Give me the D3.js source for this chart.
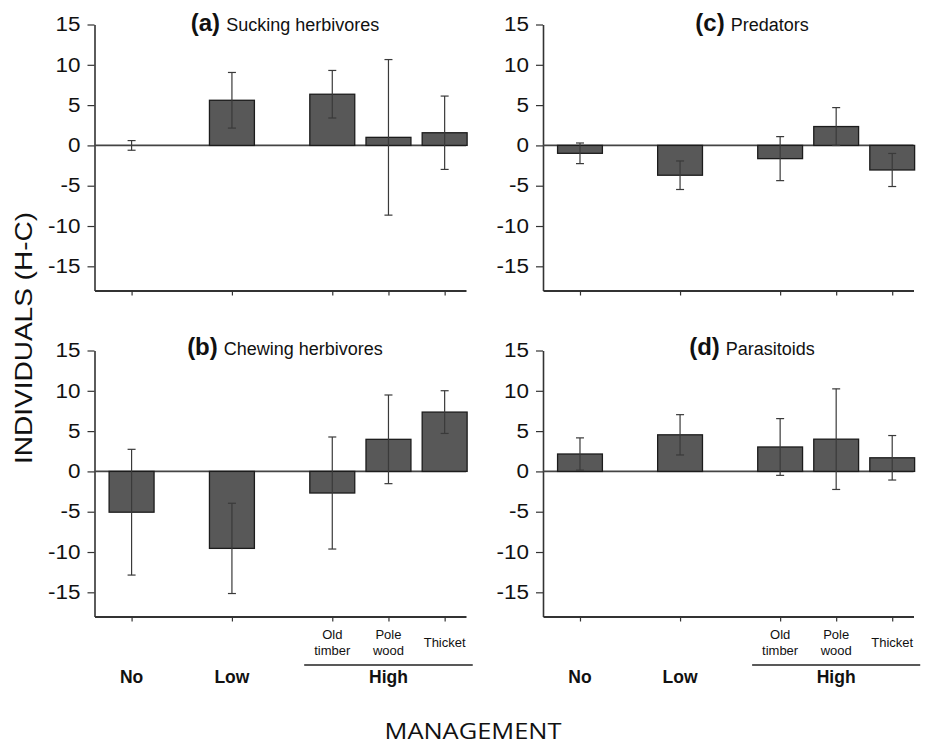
<!DOCTYPE html>
<html>
<head>
<meta charset="utf-8">
<script src="https://cdn.jsdelivr.net/npm/d3@7"></script>
<style>
  html, body { margin: 0; padding: 0; background: #fff; }
  svg { display: block; }
</style>
</head>
<body>
<script>
// ---------------- DATA ----------------
const categories = ["No", "Low", "Old timber", "Pole wood", "Thicket"];
const groups = ["No", "Low", "High", "High", "High"];
const yTicks = [15, 10, 5, 0, -5, -10, -15];

const panelLetters = ["(a)", "(b)", "(c)", "(d)"];
const panelNames = ["Sucking herbivores", "Chewing herbivores", "Predators", "Parasitoids"];

const suckingMeans = [0, 5.6, 6.35, 1.0, 1.57];
const suckingErr   = [0.6, 3.45, 2.95, 9.65, 4.55];

const chewingMeans = [-5.06, -9.55, -2.68, 3.98, 7.36];
const chewingErr   = [7.8, 5.6, 6.95, 5.5, 2.65];

const predatorMeans = [-0.98, -3.7, -1.64, 2.34, -3.05];
const predatorErr   = [1.28, 1.77, 2.73, 2.35, 2.05];

const parasitoidMeans = [2.16, 4.54, 3.03, 4.0, 1.69];
const parasitoidErr   = [2.0, 2.5, 3.52, 6.24, 2.76];

const yLabel = "INDIVIDUALS (H-C)";
const xLabel = "MANAGEMENT";

// ---------------- LAYOUT ----------------
const W = 928, H = 744;
const cols = [{ x0: 94.5, x1: 466, tc: 285 }, { x0: 543, x1: 913.5, tc: 752 }];
const rows = [{ y0: 24.5, y1: 290.5, ty: 31 }, { y0: 350.5, y1: 616.5, ty: 355 }];
const groupGap = 0.786;   // extra spacing between management groups (in slot units)
const tickStretch = 1.15; // tick labels in the reference are horizontally wide

// slot index derived from group structure
const slots = [];
{
  let changes = 0;
  groups.forEach((g, i) => {
    if (i > 0 && g !== groups[i - 1]) changes++;
    slots.push(i + changes * groupGap);
  });
}

const panels = [
  { letter: panelLetters[0], name: panelNames[0], means: suckingMeans, err: suckingErr, row: 0, col: 0 },
  { letter: panelLetters[1], name: panelNames[1], means: chewingMeans, err: chewingErr, row: 1, col: 0 },
  { letter: panelLetters[2], name: panelNames[2], means: predatorMeans, err: predatorErr, row: 0, col: 1 },
  { letter: panelLetters[3], name: panelNames[3], means: parasitoidMeans, err: parasitoidErr, row: 1, col: 1 }
];

const svg = d3.select("body").append("svg").attr("width", W).attr("height", H)
  .style("font-family", "'Liberation Sans', Arial, sans-serif");

const axisColor = "#333";

panels.forEach(p => {
  const c = cols[p.col], r = rows[p.row];
  const x = d3.scaleLinear().domain([-0.66, slots[slots.length - 1] + 0.38]).range([c.x0, c.x1]);
  const y = d3.scaleLinear().domain([-18, 15]).range([r.y1, r.y0]);
  const unit = x(1) - x(0);
  const bw = unit * 0.8;
  const g = svg.append("g");

  // y axis
  const ya = g.append("g").attr("transform", `translate(${c.x0},0)`)
    .call(d3.axisLeft(y).tickValues(yTicks).tickSize(7).tickSizeOuter(0).tickPadding(7).tickFormat(d => String(d)));
  ya.select(".domain").attr("stroke", axisColor).attr("stroke-width", 1.6);
  ya.selectAll(".tick line").attr("stroke", axisColor).attr("stroke-width", 1.2);
  ya.selectAll(".tick text").attr("font-size", 19.5).attr("fill", "#111")
    .attr("font-family", "'Liberation Sans', Arial, sans-serif")
    .attr("x", -14 / tickStretch)
    .attr("transform", `scale(${tickStretch},1)`);

  // x axis
  const xa = g.append("g").attr("transform", `translate(0,${r.y1})`)
    .call(d3.axisBottom(x).tickValues(slots).tickSize(5).tickSizeOuter(0).tickFormat(""));
  xa.select(".domain").attr("stroke", axisColor).attr("stroke-width", 1.8);
  xa.selectAll(".tick line").attr("stroke", axisColor).attr("stroke-width", 1.2);

  // zero line
  g.append("line").attr("x1", c.x0).attr("x2", c.x1).attr("y1", y(0)).attr("y2", y(0))
    .attr("stroke", "#444").attr("stroke-width", 1.6);

  const data = categories.map((cat, i) => ({ cat, s: slots[i], v: p.means[i], e: p.err[i] }));

  // bars
  g.selectAll("rect.bar").data(data).join("rect").attr("class", "bar")
    .attr("x", d => x(d.s) - bw / 2)
    .attr("y", d => y(Math.max(0, d.v)))
    .attr("width", bw)
    .attr("height", d => Math.abs(y(d.v) - y(0)))
    .attr("fill", "#585858")
    .attr("stroke", "#1c1c1c")
    .attr("stroke-width", 1.3);

  // error bars
  const eg = g.selectAll("g.err").data(data).join("g").attr("class", "err")
    .attr("stroke", "#3a3a3a").attr("stroke-width", 1.2);
  eg.append("line").attr("x1", d => x(d.s)).attr("x2", d => x(d.s))
    .attr("y1", d => y(d.v - d.e)).attr("y2", d => y(d.v + d.e));
  eg.append("line").attr("x1", d => x(d.s) - 4).attr("x2", d => x(d.s) + 4)
    .attr("y1", d => y(d.v + d.e)).attr("y2", d => y(d.v + d.e));
  eg.append("line").attr("x1", d => x(d.s) - 4).attr("x2", d => x(d.s) + 4)
    .attr("y1", d => y(d.v - d.e)).attr("y2", d => y(d.v - d.e));

  // title
  const t = g.append("text").attr("x", c.tc).attr("y", r.ty).attr("text-anchor", "middle").attr("fill", "#111");
  t.append("tspan").attr("font-weight", "bold").attr("font-size", 24).text(p.letter);
  t.append("tspan").attr("font-size", 18).attr("dx", 6).text(p.name);

  // category labels on bottom row only
  if (p.row === 1) {
    const base = r.y1;
    categories.forEach((cat, i) => {
      if (groups[i] !== "High") return;
      const parts = cat.split(" ");
      const tt = g.append("text").attr("text-anchor", "middle").attr("font-size", 13).attr("fill", "#111");
      const startY = parts.length === 1 ? base + 30.5 : base + 22.5;
      parts.forEach((w, k) => {
        tt.append("tspan").attr("x", x(slots[i])).attr("y", startY + k * 16).text(w);
      });
    });
    // group labels
    const uniq = Array.from(new Set(groups));
    uniq.forEach(gr => {
      const idx = groups.map((gg, i) => gg === gr ? i : -1).filter(i => i >= 0);
      const s0 = slots[idx[0]], s1 = slots[idx[idx.length - 1]];
      const cx = (x(s0) + x(s1)) / 2;
      g.append("text").attr("x", cx).attr("y", base + 66.5).attr("text-anchor", "middle")
        .attr("font-size", 17.5).attr("font-weight", "bold").attr("fill", "#111").text(gr);
      if (idx.length > 1) {
        g.append("line").attr("x1", x(s0) - unit * 0.5).attr("x2", x(s1) + unit * 0.5)
          .attr("y1", base + 48.5).attr("y2", base + 48.5)
          .attr("stroke", "#222").attr("stroke-width", 1.5);
      }
    });
  }
});

// y label
svg.append("text").attr("transform", "translate(32,338) rotate(-90)")
  .attr("text-anchor", "middle").attr("font-size", 24).attr("fill", "#111")
  .attr("textLength", 252).attr("lengthAdjust", "spacingAndGlyphs")
  .text(yLabel);

// x label
svg.append("text").attr("x", 473).attr("y", 739).attr("text-anchor", "middle")
  .attr("font-family", "'Open Sans', sans-serif").attr("font-size", 22).attr("fill", "#111")
  .attr("textLength", 177).attr("lengthAdjust", "spacingAndGlyphs")
  .text(xLabel);
</script>
</body>
</html>
